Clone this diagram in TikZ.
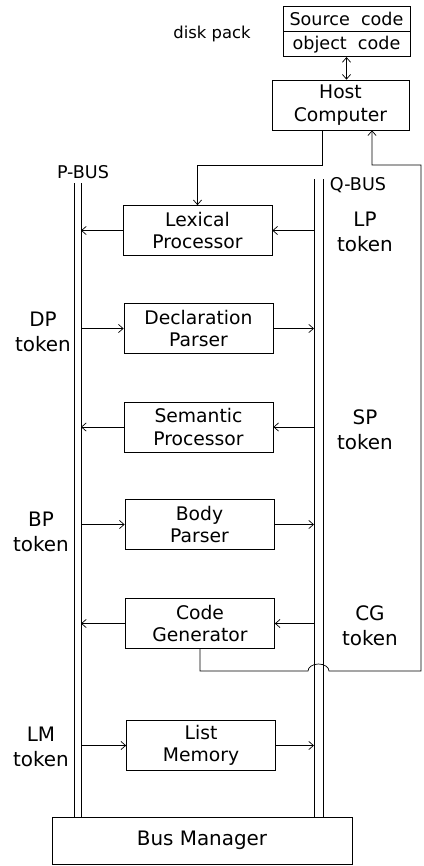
\documentclass[tikz,border=0pt]{standalone}
\usepackage{fontspec}
\setmainfont{DejaVu Sans}
\usepackage{tikz}
\usetikzlibrary{calc,arrows.meta}

\begin{document}
\begin{tikzpicture}[
            x=0.03cm, y=0.03cm,
            >={Straight Barb[length=4pt,width=7pt]},
            procbox/.style={
                draw,
                line width=0.6pt,
                minimum width=4.47cm,
                minimum height=1.5cm,
                inner sep=2pt,
                align=center,
                font=\fontsize{16}{19}\selectfont
            },
            diskbox/.style={
                procbox,
                minimum width=3.81cm,
                minimum height=0.75cm,
                inner sep=1pt,
                font=\fontsize{15}{17}\selectfont
            },
            tokenlabel/.style={
                align=center,
                inner sep=0pt,
                font=\fontsize{17}{21}\selectfont
            },
            buslabel/.style={
                inner sep=0pt,
                font=\fontsize{15}{17}\selectfont
            },
            busline/.style={
                line width=0.7pt
            },
            flow/.style={
                ->,
                line width=0.6pt
            }
        ]

        \useasboundingbox (0,0) rectangle (424,-866);

        % --- Host side ---
        \node[diskbox] (src) at (346.5,-18.5) {Source\ \ code};
        \node[diskbox, anchor=north] (obj) at (src.south) {object\ \ code};
        \node[buslabel, font=\fontsize{14}{16}\selectfont] (disk) at (212,-34) {disk pack};

        \node[procbox, minimum width=4.11cm] (host) at (340.5,-105)
            {Host\\Computer};

        \draw[<->, line width=0.6pt] (obj.south) -- (obj.south |- host.north);

        % --- Processors ---
        \node[procbox] (lex) at (197.5,-230.5) {Lexical\\Processor};
        \node[procbox] (decl) at (198.5,-328.5) {Declaration\\Parser};
        \node[procbox] (sem) at (198.5,-427) {Semantic\\Processor};
        \node[procbox] (body) at (199.5,-524.5) {Body\\Parser};
        \node[procbox] (cg) at (200,-623.5) {Code\\Generator};
        \node[procbox] (lm) at (201,-745.5) {List\\Memory};

        \node[procbox, minimum width=9cm, minimum height=1.41cm,
            font=\fontsize{17}{20}\selectfont] (busmgr) at (202,-840.5)
            {Bus Manager};

        % --- Buses ---
        \coordinate (pa) at (74,-183);
        \coordinate (pb) at (81,-183);
        \coordinate (qa) at (314,-179);
        \coordinate (qb) at (323,-179);

        \draw[busline] (pa) -- (pa |- busmgr.north);
        \draw[busline] (pb) -- (pb |- busmgr.north);
        \draw[busline] (qa) -- (qa |- busmgr.north);
        \draw[busline] (qb) -- (qb |- busmgr.north);

        \node[buslabel] (pbus) at (83,-172) {P-BUS};
        \node[buslabel] (qbus) at (358,-185) {Q-BUS};

        % --- Tokens ---
        \node[tokenlabel] (lptok) at (365,-232) {LP\\token};
        \node[tokenlabel] (dptok) at (43,-332) {DP\\token};
        \node[tokenlabel] (sptok) at (365,-430) {SP\\token};
        \node[tokenlabel] (bptok) at (41,-532) {BP\\token};
        \node[tokenlabel] (cgtok) at (370,-626) {CG\\token};
        \node[tokenlabel] (lmtok) at (41,-747) {LM\\token};

        % --- Bus traffic ---
        \draw[flow] (lex.east -| qa) -- (lex.east);
        \draw[flow] (lex.west) -- (lex.west -| pb);

        \draw[flow] (decl.west -| pb) -- (decl.west);
        \draw[flow] (decl.east) -- (decl.east -| qa);

        \draw[flow] (sem.east -| qa) -- (sem.east);
        \draw[flow] (sem.west) -- (sem.west -| pb);

        \draw[flow] (body.west -| pb) -- (body.west);
        \draw[flow] (body.east) -- (body.east -| qa);

        \draw[flow] (cg.east -| qa) -- (cg.east);
        \draw[flow] (cg.west) -- (cg.west -| pb);

        \draw[flow] (lm.west -| pb) -- (lm.west);
        \draw[flow] (lm.east) -- (lm.east -| qa);

        % --- Host links ---
        \coordinate (hostout) at (322,-165);
        \draw[flow] (hostout |- host.south) -- (hostout) -| (lex.north);

        \coordinate (jumpin) at (308,-671);
        \coordinate (retcorner) at (421,-165);
        \coordinate (retup) at (372,-165);
        \draw[flow] (cg.south) |- (jumpin)
            arc[start angle=180, end angle=0, x radius=10.5, y radius=7]
            -- (retcorner |- jumpin) -- (retcorner) -- (retup)
            -- (retup |- host.south);

        \end{tikzpicture}
\end{document}
